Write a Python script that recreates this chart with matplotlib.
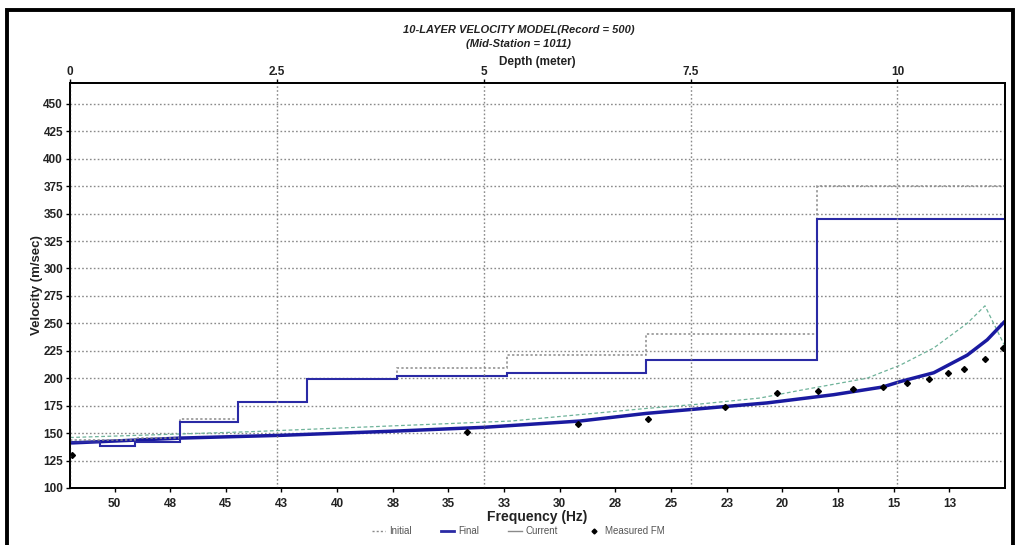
import matplotlib
matplotlib.use("Agg")
import matplotlib.pyplot as plt
from matplotlib.lines import Line2D
from matplotlib.patches import Rectangle

plt.rcParams['font.family'] = ['Liberation Sans', 'DejaVu Sans']

# layer model (depth axis, top)
depth_edges = [0, 0.36, 0.79, 1.33, 2.03, 2.87, 3.95, 5.28, 6.96, 9.03, 11.3]
vs_initial = [144, 144, 146, 163, 178.5, 199, 209, 221, 240, 375]
vs_final = [141.5, 138.5, 142, 160, 178.5, 199, 202, 204.5, 216.5, 345]

# dispersion curves (frequency axis, bottom)
freq_final = [52.0, 47.0, 42.5, 37.2, 33.4, 29.1, 26.1, 22.7, 20.7, 17.7, 15.5, 14.7, 13.2, 11.7, 10.8, 10.0]
vel_final = [141, 145.5, 148, 152, 155.3, 161, 168, 174, 177.5, 185, 192, 197, 205, 221, 235, 252]

freq_init = [52.0, 43.9, 32.2, 26.1, 23.7, 21.0, 19.2, 16.2, 14.7, 13.2, 11.7, 10.9, 10.0]
vel_init = [146, 151.3, 161, 172.5, 176.5, 182, 189, 200, 212, 227.6, 250, 266, 229]

freq_meas = [51.9, 34.17, 29.18, 26.03, 22.58, 20.24, 18.40, 16.83, 15.48, 14.40, 13.41, 12.56, 11.84, 10.90, 10.09]
vel_meas = [130, 150.7, 158, 163, 174, 186.3, 188.7, 190, 192.3, 195.4, 199, 204.5, 208.7, 217.6, 227.6]

freq_ticks = [50, 47.5, 45, 42.5, 40, 37.5, 35, 32.5, 30, 27.5, 25, 22.5, 20, 17.5, 15, 12.5]
freq_labels = ['50', '48', '45', '43', '40', '38', '35', '33', '30', '28', '25', '23', '20', '18', '15', '13']
depth_ticks = [0, 2.5, 5, 7.5, 10]
depth_labels = ['0', '2.5', '5', '7.5', '10']
vel_ticks = list(range(100, 451, 25))

fig = plt.figure(figsize=(10.16, 5.45), dpi=100)
ax = fig.add_axes([70 / 1016, 1 - 488 / 545, 935 / 1016, 405 / 545])
ax_top = ax.twiny()

grid_kw = dict(color='#8a8a8a', linestyle=(0, (1.2, 1.6)), linewidth=1.0)

# frequency axis
ax.set_xlim(52, 10)
ax.set_ylim(100, 469)
ax.set_xticks(freq_ticks)
ax.set_xticklabels(freq_labels)
ax.set_yticks(vel_ticks)
ax.grid(axis='y', **grid_kw)
ax.grid(axis='x', visible=False)
ax.tick_params(axis='both', labelsize=8.5, length=3, width=1, pad=2)
ax.tick_params(axis='x', pad=4)
for lab in ax.get_xticklabels() + ax.get_yticklabels():
    lab.set_fontweight('bold')
    lab.set_color('#222222')
ax.set_xlabel('Frequency (Hz)', fontsize=10, fontweight='bold', labelpad=0, color='#222222')
ax.set_ylabel('Velocity (m/sec)', fontsize=9.5, fontweight='bold', labelpad=0, color='#222222')

# depth axis
ax_top.set_xlim(0, 11.3)
ax_top.set_xticks(depth_ticks)
ax_top.set_xticklabels(depth_labels)
ax_top.grid(axis='x', **grid_kw)
ax_top.tick_params(axis='x', labelsize=8.5, length=3, width=1, pad=0.5)
for lab in ax_top.get_xticklabels():
    lab.set_fontweight('bold')
    lab.set_color('#222222')
ax_top.set_xlabel('Depth (meter)', fontsize=8.5, fontweight='bold', labelpad=1, color='#222222')

for a in (ax, ax_top):
    for s in a.spines.values():
        s.set_linewidth(1.3)
        s.set_color('black')

# layer models
ax_top.stairs(vs_initial, depth_edges, baseline=None, color='#8a8a8a',
              linestyle=(0, (1.5, 1.5)), linewidth=1.1)
ax_top.stairs(vs_final, depth_edges, baseline=None, color='#2a2aa5', linewidth=1.5)

# dispersion curves
ax.plot(freq_init, vel_init, color='#6fb39a', linestyle=(0, (3, 2)), linewidth=0.9)
ax.plot(freq_final, vel_final, color='#1a1aa0', linewidth=2.5, solid_capstyle='butt')
ax.plot(freq_meas, vel_meas, linestyle='none', marker='D', markersize=3.0,
        color='black')

# titles
fig.text(519 / 1016, 1 - 30 / 545, '10-LAYER VELOCITY MODEL(Record = 500)', ha='center',
         va='center', fontsize=8, fontweight='bold', fontstyle='italic', color='#222222')
fig.text(519 / 1016, 1 - 44 / 545, '(Mid-Station = 1011)', ha='center',
         va='center', fontsize=8, fontweight='bold', fontstyle='italic', color='#222222')

# legend
handles = [
    Line2D([], [], color='#8a8a8a', linestyle=(0, (1.5, 1.5)), linewidth=1),
    Line2D([], [], color='#2a2aa5', linewidth=2),
    Line2D([], [], color='#8a8a8a', linewidth=1),
    Line2D([], [], color='black', linestyle='none', marker='D', markersize=2.5),
]
fig.legend(handles, ['Initial', 'Final', 'Current', 'Measured FM'], loc='center',
           bbox_to_anchor=(518 / 1016, 1 - 531 / 545), ncol=4, frameon=False,
           fontsize=7, handlelength=1.4, columnspacing=3.0, handletextpad=0.4,
           labelcolor='#555555')

# outer frame
fig.patches.append(Rectangle((7 / 1016, -0.02), 1006 / 1016, 1.02 - 10 / 545,
                             transform=fig.transFigure, fill=False,
                             edgecolor='black', linewidth=2.8))

fig.savefig('out.png', dpi=100)
